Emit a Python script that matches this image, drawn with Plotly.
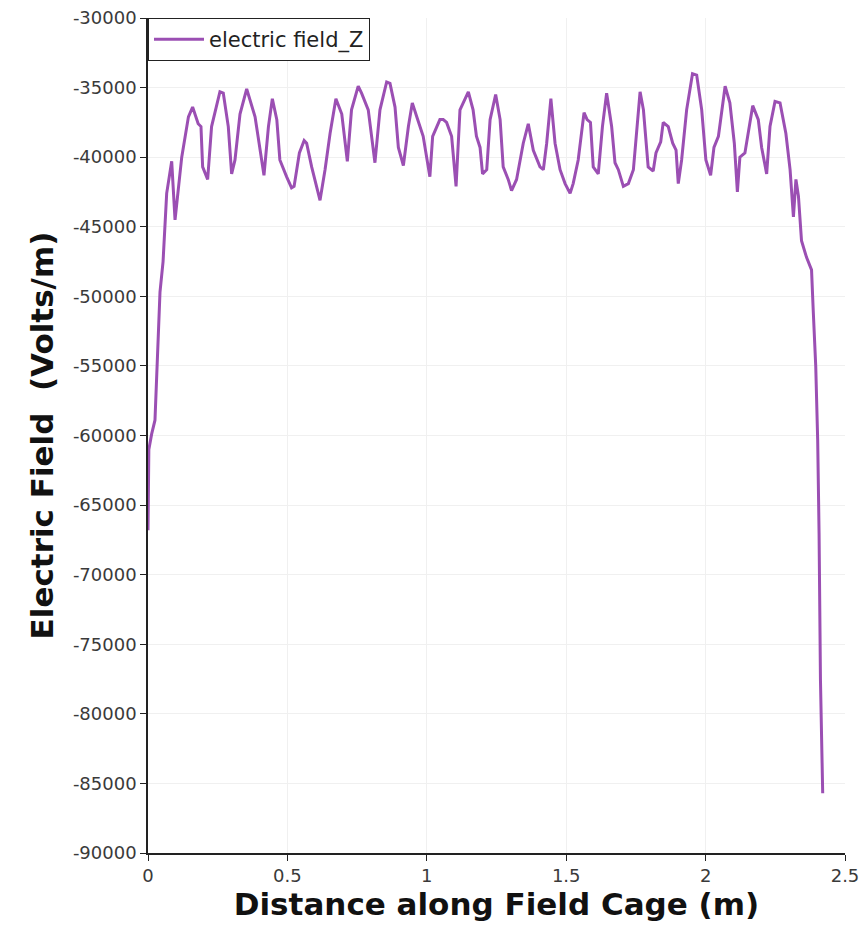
import plotly.graph_objects as go

# Distance along the field cage (m)
distance_m = [
    0.000, 0.003, 0.013, 0.025, 0.043, 0.054, 0.067, 0.085, 0.097, 0.121,
    0.145, 0.160, 0.180, 0.190, 0.196, 0.214, 0.228, 0.258, 0.270, 0.288,
    0.300, 0.312, 0.330, 0.354, 0.384, 0.416, 0.432, 0.446, 0.462, 0.473,
    0.497, 0.515, 0.524, 0.543, 0.560, 0.569, 0.587, 0.617, 0.635, 0.653,
    0.674, 0.695, 0.715, 0.730, 0.754, 0.766, 0.790, 0.814, 0.832, 0.856,
    0.868, 0.886, 0.898, 0.916, 0.934, 0.948, 0.964, 0.987, 1.011, 1.021,
    1.047, 1.059, 1.071, 1.089, 1.105, 1.119, 1.149, 1.166, 1.178, 1.191,
    1.200, 1.215, 1.227, 1.247, 1.263, 1.274, 1.292, 1.304, 1.322, 1.346,
    1.364, 1.382, 1.406, 1.418, 1.430, 1.445, 1.460, 1.478, 1.496, 1.514,
    1.525, 1.543, 1.564, 1.575, 1.587, 1.597, 1.615, 1.630, 1.645, 1.663,
    1.675, 1.687, 1.705, 1.723, 1.741, 1.753, 1.765, 1.777, 1.794, 1.812,
    1.822, 1.839, 1.848, 1.866, 1.882, 1.894, 1.902, 1.914, 1.932, 1.953,
    1.968, 1.986, 2.001, 2.018, 2.030, 2.046, 2.058, 2.070, 2.087, 2.103,
    2.114, 2.123, 2.141, 2.153, 2.169, 2.189, 2.201, 2.219, 2.231, 2.249,
    2.267, 2.288, 2.303, 2.315, 2.324, 2.333, 2.344, 2.362, 2.380, 2.386,
    2.395, 2.402, 2.407, 2.412, 2.420,
]

# Z component of the electric field (V/m)
field_z = [
    -66800, -61000, -59900, -58900, -49700, -47500, -42600, -40300, -44500, -40000,
    -37100, -36400, -37600, -37800, -40700, -41600, -37800, -35300, -35400, -37800,
    -41200, -40200, -36900, -35100, -37100, -41300, -37800, -35800, -37300, -40200,
    -41400, -42200, -42100, -39700, -38800, -39000, -40700, -43100, -40900, -38300,
    -35800, -36900, -40300, -36600, -34900, -35400, -36600, -40400, -36600, -34600,
    -34700, -36400, -39300, -40600, -37800, -36100, -37100, -38500, -41400, -38500,
    -37300, -37300, -37500, -38500, -42100, -36600, -35300, -36600, -38500, -39300,
    -41200, -40900, -37300, -35500, -37300, -40700, -41600, -42400, -41600, -39000,
    -37600, -39500, -40700, -40900, -39000, -35800, -39000, -40900, -41900, -42600,
    -41900, -40200, -36800, -37300, -37500, -40700, -41200, -37800, -35400, -37800,
    -40400, -40900, -42100, -41900, -40900, -37800, -35300, -36600, -40700, -41000,
    -39700, -38900, -37500, -37800, -39000, -39500, -41900, -40200, -36600, -34000,
    -34100, -36600, -40200, -41300, -39300, -38500, -36600, -34900, -36100, -39000,
    -42500, -40000, -39700, -38300, -36300, -37300, -39300, -41200, -37800, -36000,
    -36100, -38300, -40900, -44300, -41600, -42800, -46000, -47200, -48100, -51000,
    -55000, -60300, -67000, -77600, -85700,
]

x_ticks = [0, 0.5, 1, 1.5, 2, 2.5]
y_ticks = list(range(-90000, -29999, 5000))

fig = go.Figure()
fig.add_trace(go.Scatter(
    x=distance_m,
    y=field_z,
    mode="lines",
    name="electric field_Z",
    line=dict(color="#9b4fb3", width=3),
))

axis_common = dict(
    showline=True,
    linecolor="#222222",
    linewidth=1.5,
    ticks="outside",
    ticklen=6,
    tickcolor="#222222",
    showgrid=True,
    gridcolor="#f0f0f0",
    gridwidth=1,
    zeroline=False,
    automargin=False,
    tickfont=dict(family="DejaVu Sans, sans-serif", size=18, color="#3a3a3a"),
)

fig.update_layout(
    width=864,
    height=930,
    margin=dict(l=148, r=19, t=18, b=77),
    paper_bgcolor="white",
    plot_bgcolor="white",
    showlegend=True,
    legend=dict(
        x=0, y=1, xanchor="left", yanchor="top",
        bgcolor="white",
        bordercolor="#222222",
        borderwidth=1,
        font=dict(family="DejaVu Sans, sans-serif", size=21, color="#222222"),
        itemwidth=50,
    ),
    xaxis=dict(
        range=[0, 2.5],
        tickvals=x_ticks,
        ticktext=[str(v) for v in x_ticks],
        title=dict(
            text="<b>Distance along Field Cage (m)</b>",
            font=dict(family="DejaVu Sans, sans-serif", size=31, color="#111111"),
            standoff=8,
        ),
        **axis_common,
    ),
    yaxis=dict(
        range=[-90000, -30000],
        tickvals=y_ticks,
        ticktext=[str(v) for v in y_ticks],
        title=dict(
            text="<b>Electric Field  (Volts/m)</b>",
            font=dict(family="DejaVu Sans, sans-serif", size=31, color="#111111"),
            standoff=10,
        ),
        **axis_common,
    ),
)

fig.write_html("out.html")
